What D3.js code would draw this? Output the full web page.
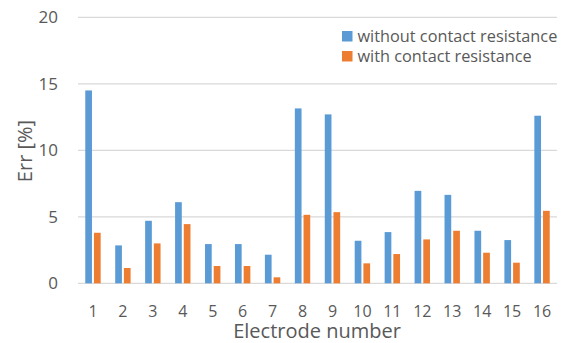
<!DOCTYPE html>
<html>
<head>
<meta charset="utf-8">
<script src="https://cdn.jsdelivr.net/npm/d3@7/dist/d3.min.js"></script>
<style>
  html, body { margin: 0; padding: 0; background: #fff; }
  svg { display: block; font-family: "Open Sans", sans-serif; }
</style>
</head>
<body>
<svg id="chart" width="563" height="343"></svg>
<script>
// Electrode-wise error, two series
const electrodes = ["1","2","3","4","5","6","7","8","9","10","11","12","13","14","15","16"];
const seriesNames = ["without contact resistance", "with contact resistance"];
const withoutContact = [14.5, 2.85, 4.7, 6.1, 2.95, 2.95, 2.15, 13.15, 12.7, 3.2, 3.85, 6.95, 6.65, 3.95, 3.25, 12.6];
const withContact    = [3.8, 1.15, 3.0, 4.45, 1.3, 1.3, 0.45, 5.15, 5.35, 1.5, 2.2, 3.3, 3.95, 2.3, 1.55, 5.45];
const yTicks = [0, 5, 10, 15, 20];
const colors = ["#5b9bd5", "#ed7d31"];

const svg = d3.select("#chart");
const plot = { left: 78, right: 557, top: 17.3, bottom: 283.3 };

const x = d3.scaleBand().domain(electrodes).range([plot.left, plot.right]).paddingInner(0).paddingOuter(0);
const y = d3.scaleLinear().domain([0, 20]).range([plot.bottom, plot.top]);
const xs = d3.scaleBand().domain(seriesNames).range([-7.7, 7.7]).paddingInner(0.23);

// gridlines
svg.append("g").selectAll("line").data(yTicks).join("line")
  .attr("x1", plot.left).attr("x2", plot.right)
  .attr("y1", d => y(d)).attr("y2", d => y(d))
  .attr("stroke", "#d9d9d9").attr("stroke-width", 1.3);

// y tick labels
svg.append("g").selectAll("text").data(yTicks).join("text")
  .attr("x", 58).attr("y", d => y(d)).attr("dy", "0.36em")
  .attr("text-anchor", "end").attr("font-size", 17).attr("fill", "#595959")
  .text(d => d);

// bars
const rows = electrodes.map((e, i) => ({ e, vals: [withoutContact[i], withContact[i]] }));
const groups = svg.append("g").selectAll("g").data(rows).join("g")
  .attr("transform", d => `translate(${x(d.e) + x.bandwidth() / 2},0)`);
groups.selectAll("rect").data(d => d.vals.map((v, k) => ({ v, k }))).join("rect")
  .attr("x", d => xs(seriesNames[d.k]))
  .attr("width", xs.bandwidth())
  .attr("y", d => y(d.v))
  .attr("height", d => y(0) - y(d.v))
  .attr("fill", d => colors[d.k]);

// x tick labels
svg.append("g").selectAll("text").data(electrodes).join("text")
  .attr("x", d => x(d) + x.bandwidth() / 2).attr("y", 317)
  .attr("text-anchor", "middle").attr("font-size", 16).attr("fill", "#595959")
  .text(d => d);

// axis titles
svg.append("text").attr("x", 317).attr("y", 338)
  .attr("text-anchor", "middle").attr("font-size", 20).attr("fill", "#595959")
  .text("Electrode number");
svg.append("text").attr("transform", "translate(32,151) rotate(-90)")
  .attr("text-anchor", "middle").attr("font-size", 20).attr("fill", "#595959")
  .text("Err [%]");

// legend
const legend = svg.append("g").selectAll("g").data(seriesNames).join("g")
  .attr("transform", (d, i) => `translate(342,${31 + i * 20})`);
legend.append("rect").attr("width", 10.5).attr("height", 10.5).attr("fill", (d, i) => colors[i]);
legend.append("text").attr("x", 15.5).attr("y", 10.5)
  .attr("font-size", 16.3).attr("fill", "#595959").text(d => d);
</script>
</body>
</html>
